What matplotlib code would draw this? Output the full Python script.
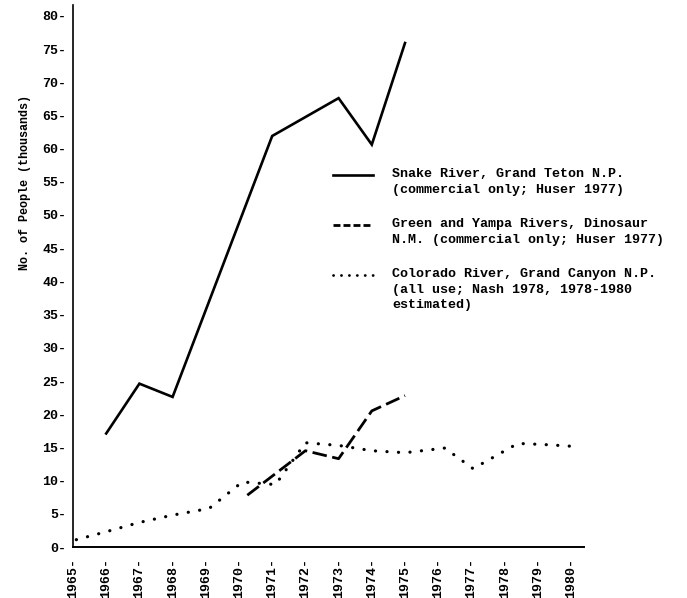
import matplotlib
matplotlib.use("Agg")
import matplotlib.pyplot as plt
from matplotlib.lines import Line2D

# ---------------- data ----------------
snake_years = [1966, 1967, 1968, 1971, 1973, 1974, 1975]
snake_vals = [17.1, 24.6, 22.6, 61.9, 67.6, 60.6, 75.9]

green_years = [1970.25, 1972, 1973, 1974, 1975]
green_vals = [7.8, 14.5, 13.3, 20.5, 22.8]

colorado_years = [1965.1, 1966, 1967, 1968, 1969.1, 1970.1, 1971.1, 1972, 1973,
                  1974, 1975, 1976.2, 1977.05, 1978.4, 1979.3, 1980.25]
colorado_vals = [1.1, 2.3, 3.7, 4.8, 5.8, 9.8, 9.4, 15.7, 15.3,
                 14.5, 14.2, 14.9, 11.8, 15.6, 15.4, 15.1]

year_ticks = list(range(1965, 1981))
value_ticks = list(range(0, 81, 5))

legend_labels = [
    "Snake River, Grand Teton N.P.\n(commercial only; Huser 1977)",
    "Green and Yampa Rivers, Dinosaur\nN.M. (commercial only; Huser 1977)",
    "Colorado River, Grand Canyon N.P.\n(all use; Nash 1978, 1978-1980\nestimated)",
]
ylabel = "No. of People (thousands)"

# ---------------- style ----------------
plt.rcParams["lines.scale_dashes"] = False
FONT = ["Liberation Mono", "DejaVu Sans Mono"]
W, H = 687, 598
fig = plt.figure(figsize=(W / 100, H / 100), dpi=100)

def fx(px):
    return px / W

def fy(py):
    return 1 - py / H

ax_left, ax_right, ax_top, ax_bottom = 73, 584, 5, 547
ax = fig.add_axes([fx(ax_left), fy(ax_bottom), (ax_right - ax_left) / W,
                   (ax_bottom - ax_top) / H])

ax.plot(snake_years, snake_vals, color="black", lw=1.9, solid_joinstyle="miter")
ax.plot(green_years, green_vals, color="black", lw=2.0,
        linestyle=(0, (10.5, 4.0)), dash_capstyle="butt")
ax.plot(colorado_years, colorado_vals, color="black", lw=2.3,
        linestyle=(0, (0.1, 8.2)), dash_capstyle="round")

ax.set_xlim(1965, 1965 + (ax_right - ax_left) / 33.2)
ax.set_ylim(0, (ax_bottom - ax_top) / 6.64)

ax.spines["top"].set_visible(False)
ax.spines["right"].set_visible(False)
ax.spines["left"].set_linewidth(1.2)
ax.spines["bottom"].set_linewidth(1.4)

ax.set_xticks(year_ticks)
ax.set_xticklabels([f"{y}-" for y in year_ticks], rotation=90,
                   family=FONT, fontsize=9.5, fontweight="bold")
ax.set_yticks(value_ticks)
ax.set_yticklabels([f"{v}-" for v in value_ticks],
                   family=FONT, fontsize=9.5, fontweight="bold")
ax.tick_params(axis="both", length=0)
ax.tick_params(axis="y", pad=5)
ax.tick_params(axis="x", pad=8)

fig.text(fx(25), fy(183), ylabel, rotation=90, ha="center", va="center",
         family=FONT, fontsize=8.5, fontweight="bold")

# ---------------- legend ----------------
leg_styles = [
    dict(linestyle="-", lw=1.9),
    dict(linestyle=(0, (5.0, 2.2)), lw=2.0),
    dict(linestyle=(0, (0.1, 5.6)), lw=2.0, dash_capstyle="round"),
]
leg_line_x0, leg_line_x1, leg_text_x = 333, 373, 392
leg_rows = [175, 225, 275]
for style, label, row in zip(leg_styles, legend_labels, leg_rows):
    fig.add_artist(Line2D([fx(leg_line_x0), fx(leg_line_x1)], [fy(row), fy(row)],
                          transform=fig.transFigure, color="black", **style))
    fig.text(fx(leg_text_x), fy(row - 7), label, ha="left", va="top",
             family=FONT, fontsize=9.6, fontweight="bold", linespacing=1.4)

fig.savefig("out.png", dpi=100, facecolor="white")
